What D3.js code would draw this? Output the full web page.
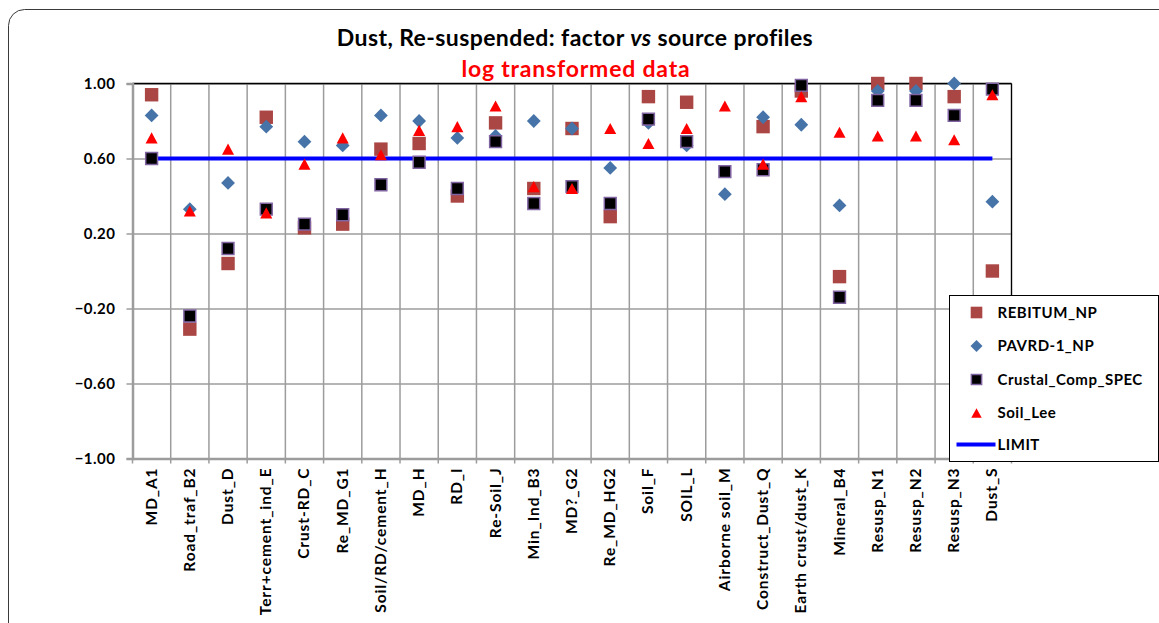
<!DOCTYPE html>
<html>
<head>
<meta charset="utf-8">
<script src="https://cdn.jsdelivr.net/npm/d3@7"></script>
<style>
body { margin: 0; background: #fff; }
text { font-family: Lato, 'Liberation Sans', sans-serif; font-weight: bold; }
</style>
</head>
<body>
<script>
var categories = ['MD_A1', 'Road_traf_B2', 'Dust_D', 'Terr+cement_ind_E', 'Crust-RD_C', 'Re_MD_G1',
    'Soil/RD/cement_H', 'MD_H', 'RD_I', 'Re-Soil_J', 'Min_Ind_B3', 'MD?_G2', 'Re_MD_HG2', 'Soil_F',
    'SOIL_L', 'Airborne soil_M', 'Construct_Dust_Q', 'Earth crust/dust_K', 'Mineral_B4',
    'Resusp_N1', 'Resusp_N2', 'Resusp_N3', 'Dust_S']

var rebitum = [0.94, -0.31, 0.04, 0.82, 0.23, 0.25, 0.65, 0.68, 0.40, 0.79, 0.44, 0.76, 0.29, 0.93,
    0.90, null, 0.77, 0.96, -0.03, 1.00, 1.00, 0.93, 0.00]
var pavrd = [0.83, 0.33, 0.47, 0.77, 0.69, 0.67, 0.83, 0.80, 0.71, 0.72, 0.80, 0.76, 0.55, 0.79,
    0.67, 0.41, 0.82, 0.78, 0.35, 0.96, 0.96, 1.00, 0.37]
var crustal = [0.60, -0.24, 0.12, 0.33, 0.25, 0.30, 0.46, 0.58, 0.44, 0.69, 0.36, 0.45, 0.36, 0.81,
    0.69, 0.53, 0.54, 0.99, -0.14, 0.91, 0.91, 0.83, 0.97]
var soilLee = [0.71, 0.32, 0.65, 0.31, 0.57, 0.71, 0.62, 0.75, 0.77, 0.88, 0.45, 0.44, 0.76, 0.68,
    0.76, 0.88, 0.57, 0.93, 0.74, 0.72, 0.72, 0.70, 0.94]
var limit = 0.60
var yTicks = [-1.00, -0.60, -0.20, 0.20, 0.60, 1.00]

var W = 1159, H = 623
var plot = { left: 132.5, right: 1011.5, top: 83.5, bottom: 458.5 }

var svg = d3.select('body').append('svg')
    .attr('width', W).attr('height', H)

// outer chart frame (only top-left corner is in view)
svg.append('rect')
    .attr('x', 8.5).attr('y', 9.5)
    .attr('width', W + 20).attr('height', H + 20)
    .attr('rx', 16)
    .attr('fill', '#fff').attr('stroke', '#3a3a3a').attr('stroke-width', 1)

var x = d3.scaleBand()
    .domain(categories)
    .range([plot.left, plot.right])
    .padding(0)

var y = d3.scaleLinear()
    .domain([-1, 1])
    .range([plot.bottom, plot.top])

var gridColor = '#9c9c9c'

// horizontal grid
svg.append('g')
    .attr('transform', 'translate(' + plot.left + ',0)')
    .call(d3.axisLeft(y).tickValues(yTicks).tickSize(-(plot.right - plot.left)).tickFormat(''))
    .call(function (g) {
        g.select('.domain').remove()
        g.selectAll('line').attr('stroke', gridColor).attr('stroke-width', 1.5)
    })

// vertical grid at category boundaries
svg.append('g').selectAll('line')
    .data(categories)
    .enter().append('line')
    .attr('x1', function (d) { return x(d) + x.bandwidth() })
    .attr('x2', function (d) { return x(d) + x.bandwidth() })
    .attr('y1', plot.top)
    .attr('y2', plot.bottom + 5)
    .attr('stroke', gridColor).attr('stroke-width', 1.5)

// top and right frame of plot
svg.append('line')
    .attr('x1', plot.left).attr('x2', plot.right)
    .attr('y1', plot.top).attr('y2', plot.top)
    .attr('stroke', '#000').attr('stroke-width', 1.5)
svg.append('line')
    .attr('x1', plot.right).attr('x2', plot.right)
    .attr('y1', plot.top).attr('y2', plot.bottom)
    .attr('stroke', '#000').attr('stroke-width', 1.2)

// y axis
svg.append('g')
    .attr('transform', 'translate(' + plot.left + ',0)')
    .call(d3.axisLeft(y).tickValues(yTicks).tickSize(6).tickPadding(11).tickFormat(d3.format('.2f')))
    .call(function (g) {
        g.select('.domain').attr('stroke', gridColor).attr('stroke-width', 2.5)
        g.selectAll('line').attr('stroke', gridColor).attr('stroke-width', 1.5)
        g.selectAll('text').attr('font-size', 15).attr('fill', '#000')
            .attr('font-family', 'Lato, sans-serif').attr('font-weight', 'bold')
            .attr('letter-spacing', 0.5)
    })

// x axis
svg.append('g')
    .attr('transform', 'translate(0,' + plot.bottom + ')')
    .call(d3.axisBottom(x).tickSize(0).tickFormat(''))
    .call(function (g) {
        g.select('.domain').attr('stroke', gridColor).attr('stroke-width', 2.5)
    })
svg.append('line')
    .attr('x1', plot.left).attr('x2', plot.left)
    .attr('y1', plot.bottom).attr('y2', plot.bottom + 5)
    .attr('stroke', gridColor).attr('stroke-width', 1.5)

svg.append('g').selectAll('text')
    .data(categories)
    .enter().append('text')
    .attr('transform', function (d) {
        return 'translate(' + (x(d) + x.bandwidth() / 2 + 5) + ',' + (plot.bottom + 9) + ') rotate(-90)'
    })
    .attr('text-anchor', 'end')
    .attr('font-size', 15.5)
    .attr('letter-spacing', 0.9)
    .text(function (d) { return d })

// LIMIT line
var cx = function (d, i) { return x(categories[i]) + x.bandwidth() / 2 }
svg.append('path')
    .datum(categories.map(function () { return limit }))
    .attr('d', d3.line().x(cx).y(function (d) { return y(d) }))
    .attr('fill', 'none').attr('stroke', '#0000ff').attr('stroke-width', 4)

// marker shapes
var triangle = {
    draw: function (ctx, size) {
        var w = Math.sqrt(size) * 1.1, h = w * 0.92
        ctx.moveTo(0, -h / 2)
        ctx.lineTo(w / 2, h / 2)
        ctx.lineTo(-w / 2, h / 2)
        ctx.closePath()
    }
}
var diamond = {
    draw: function (ctx, size) {
        var r = Math.sqrt(size) / 2
        ctx.moveTo(0, -r)
        ctx.lineTo(r, 0)
        ctx.lineTo(0, r)
        ctx.lineTo(-r, 0)
        ctx.closePath()
    }
}

var series = [
    { name: 'REBITUM_NP', values: rebitum, type: d3.symbolSquare, size: 180, fill: '#aa4644', stroke: 'none' },
    { name: 'PAVRD-1_NP', values: pavrd, type: diamond, size: 190, fill: '#4673a8', stroke: 'none' },
    { name: 'Crustal_Comp_SPEC', values: crustal, type: d3.symbolSquare, size: 140, fill: '#000', stroke: '#8064a2' },
    { name: 'Soil_Lee', values: soilLee, type: triangle, size: 120, fill: '#ff0000', stroke: 'none' }
]

series.forEach(function (s) {
    svg.append('g').selectAll('path')
        .data(s.values.map(function (v, i) { return { v: v, i: i } })
            .filter(function (d) { return d.v !== null }))
        .enter().append('path')
        .attr('transform', function (d) {
            return 'translate(' + cx(null, d.i) + ',' + y(d.v) + ')'
        })
        .attr('d', d3.symbol().type(s.type).size(s.size))
        .attr('fill', s.fill)
        .attr('stroke', s.stroke)
        .attr('stroke-width', 1.5)
})

// legend
var legend = svg.append('g').attr('transform', 'translate(949.5,295.5)')
legend.append('rect')
    .attr('width', 209).attr('height', 166)
    .attr('fill', '#fff').attr('stroke', '#000').attr('stroke-width', 1)

var rowY = [17, 50.5, 84, 117.5, 149]
series.forEach(function (s, i) {
    legend.append('path')
        .attr('transform', 'translate(27,' + rowY[i] + ')')
        .attr('d', d3.symbol().type(s.type).size(s.size * 0.75))
        .attr('fill', s.fill).attr('stroke', s.stroke).attr('stroke-width', 1.5)
    legend.append('text')
        .attr('x', 48).attr('y', rowY[i] + 5)
        .attr('font-size', 15)
        .attr('letter-spacing', 0.5)
        .text(s.name)
})
legend.append('line')
    .attr('x1', 7).attr('x2', 46)
    .attr('y1', rowY[4]).attr('y2', rowY[4])
    .attr('stroke', '#0000ff').attr('stroke-width', 4)
legend.append('text')
    .attr('x', 48).attr('y', rowY[4] + 5)
    .attr('font-size', 15)
    .attr('letter-spacing', 0.5)
    .text('LIMIT')

// titles
var title = svg.append('text')
    .attr('x', 575).attr('y', 46)
    .attr('text-anchor', 'middle')
    .attr('font-size', 23)
    .attr('letter-spacing', 0.4)
title.append('tspan').text('Dust, Re-suspended: factor ')
title.append('tspan').attr('font-style', 'italic').text('vs')
title.append('tspan').text(' source profiles')

svg.append('text')
    .attr('x', 576).attr('y', 77)
    .attr('text-anchor', 'middle')
    .attr('font-size', 23)
    .attr('letter-spacing', 0.8)
    .attr('fill', '#ff0000')
    .text('log transformed data')
</script>
</body>
</html>
